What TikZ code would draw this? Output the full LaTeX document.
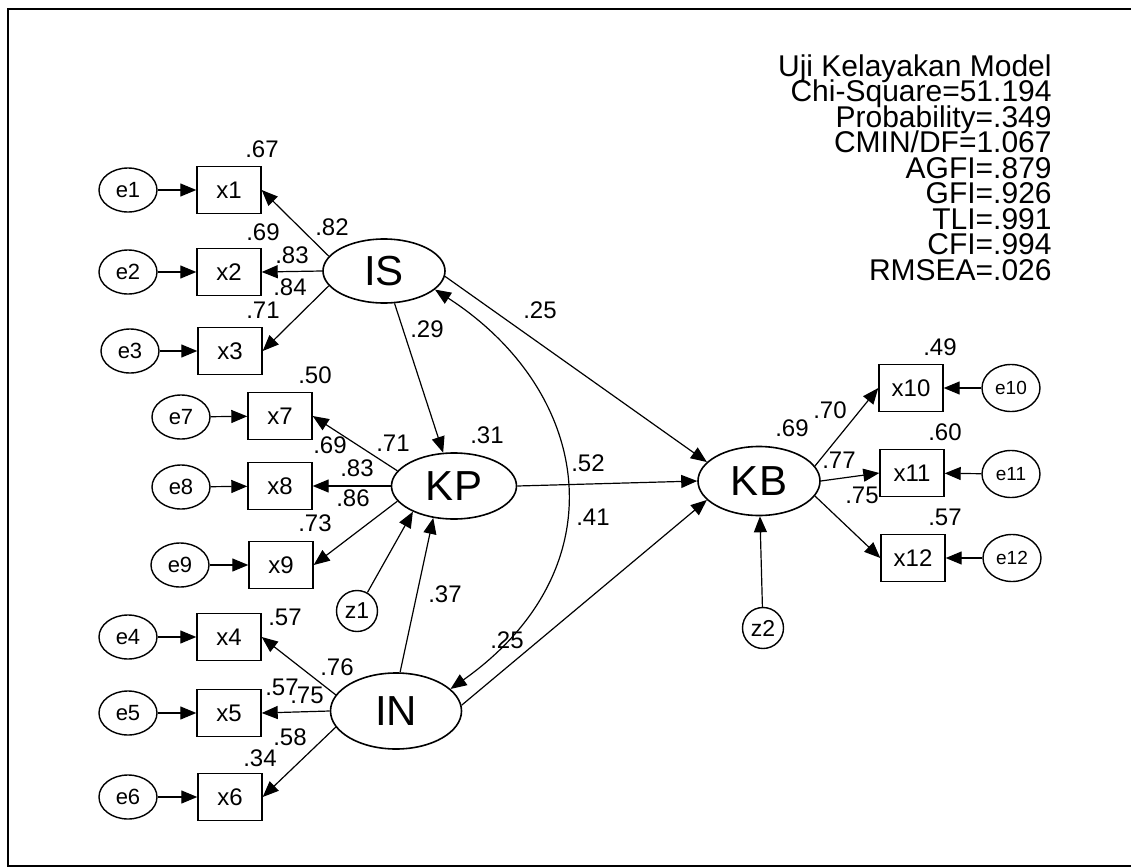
\documentclass[tikz,border=0pt]{standalone}
\usepackage{fontspec}
\setmainfont{Liberation Sans}
\usetikzlibrary{arrows.meta,shapes.geometric}
\newcommand\semfitfont{\fontsize{15}{12.75}\selectfont\lineskiplimit=-20pt\relax}
\tikzset{
  semlat/.style={ellipse, draw=black, line width=0.8pt, inner sep=0pt,
    font=\fontsize{21}{21}\selectfont, minimum width=61pt, minimum height=32pt},
  semobs/.style={rectangle, draw=black, line width=0.7pt, inner sep=0pt,
    font=\fontsize{12}{12}\selectfont, minimum width=32pt, minimum height=23.5pt},
  semerr/.style={ellipse, draw=black, line width=0.7pt, inner sep=0pt,
    font=\fontsize{11}{11}\selectfont, minimum width=29pt, minimum height=22pt},
  semerrs/.style={semerr, font=\fontsize{9.5}{9.5}\selectfont, minimum height=23.5pt},
  semres/.style={circle, draw=black, line width=0.7pt, inner sep=0pt,
    font=\fontsize{11.5}{11.5}\selectfont, minimum size=20.5pt},
  semarrow/.style={-{Triangle[length=8pt,width=6.5pt]}, line width=0.6pt, draw=black},
  semdbl/.style={{Triangle[length=8pt,width=6.5pt]}-{Triangle[length=8pt,width=6.5pt]},
    line width=0.6pt, draw=black},
  semnum/.style={font=\fontsize{12}{12}\selectfont, inner sep=0pt}
}

\begin{document}
\begin{tikzpicture}[x=0.5pt,y=-0.5pt]
  \useasboundingbox (0,0) rectangle (1131,868);
  \draw[line width=1pt] (1140,9) -- (8,9) -- (8,866) -- (1140,866);
  % indicators of IS
  \node[semerr] (e1) at (128,190) {e1};
  \node[semerr] (e2) at (128,272) {e2};
  \node[semerr] (e3) at (130,351) {e3};
  \node[semobs] (x1) at (229,190) {x1};
  \node[semobs] (x2) at (229,272) {x2};
  \node[semobs] (x3) at (230,351) {x3};
  % indicators of KP
  \node[semerr] (e7) at (181,417) {e7};
  \node[semerr] (e8) at (181,487) {e8};
  \node[semerr] (e9) at (180,565) {e9};
  \node[semobs] (x7) at (280,416) {x7};
  \node[semobs] (x8) at (280,486) {x8};
  \node[semobs] (x9) at (281,565) {x9};
  % indicators of IN
  \node[semerr] (e4) at (128,637) {e4};
  \node[semerr] (e5) at (128,713) {e5};
  \node[semerr] (e6) at (128,797) {e6};
  \node[semobs] (x4) at (229,637) {x4};
  \node[semobs] (x5) at (229,713) {x5};
  \node[semobs] (x6) at (230,797) {x6};
  % indicators of KB
  \node[semobs] (x10) at (911,388) {x10};
  \node[semobs] (x11) at (912,473) {x11};
  \node[semobs] (x12) at (913,558) {x12};
  \node[semerrs] (e10) at (1011,388) {e10};
  \node[semerrs] (e11) at (1011,474) {e11};
  \node[semerrs] (e12) at (1012,558) {e12};
  % latent variables
  \node[semlat] (IS) at (384,271) {IS};
  \node[semlat, minimum width=62.5pt, minimum height=33pt] (KP) at (454,486) {KP};
  \node[semlat, minimum width=65.5pt, minimum height=38pt] (IN) at (396,711) {IN};
  \node[semlat, minimum height=34.5pt] (KB) at (759,481) {KB};
  \node[semres] (z1) at (357,611) {z1};
  \node[semres] (z2) at (763,628) {z2};
  % error terms
  \draw[semarrow] (e1) -- (x1);
  \draw[semarrow] (e2) -- (x2);
  \draw[semarrow] (e3) -- (x3);
  \draw[semarrow] (e7) -- (x7);
  \draw[semarrow] (e8) -- (x8);
  \draw[semarrow] (e9) -- (x9);
  \draw[semarrow] (e4) -- (x4);
  \draw[semarrow] (e5) -- (x5);
  \draw[semarrow] (e6) -- (x6);
  \draw[semarrow] (e10) -- (x10);
  \draw[semarrow] (e11) -- (x11);
  \draw[semarrow] (e12) -- (x12);
  % loadings
  \draw[semarrow] (IS.165) -- (x1.east);
  \draw[semarrow] (IS.west) -- (x2.east);
  \draw[semarrow] (IS.195) -- (x3.east);
  \draw[semarrow] (KP.165) -- (x7.east);
  \draw[semarrow] (KP.west) -- (x8.east);
  \draw[semarrow] (KP.195) -- (x9.east);
  \draw[semarrow] (IN.165) -- (x4.east);
  \draw[semarrow] (IN.west) -- (x5.east);
  \draw[semarrow] (IN.195) -- (x6.east);
  \draw[semarrow] (KB.15) -- (x10.west);
  \draw[semarrow] (KB.east) -- (x11.west);
  \draw[semarrow] (KB.-15) -- (x12.west);
  % structural paths
  \draw[semarrow] (IS) -- (KP);
  \draw[semarrow] (IS.-5) -- (KB.160);
  \draw[semarrow] (KP.east) -- (KB.west);
  \draw[semarrow] (IN.5) -- (KB.200);
  \draw[semarrow] (IN.84) -- (KP.237);
  \draw[semarrow] (z1) -- (KP.212);
  \draw[semarrow] (z2) -- (KB);
  \draw[semdbl] (IS.-20) .. controls (593,392) and (620,569) .. (IN.22);
  % estimates
  \node[semnum] (r1) at (262,149) {.67};
  \node[semnum] (l1) at (332,227) {.82};
  \node[semnum] (r2) at (263,232) {.69};
  \node[semnum] (l2) at (292,255) {.83};
  \node[semnum] (l3) at (290,287) {.84};
  \node[semnum] (r3) at (263,310) {.71};
  \node[semnum] (p1) at (427,329) {.29};
  \node[semnum] (r7) at (315,375) {.50};
  \node[semnum] (l7) at (330,445) {.69};
  \node[semnum] (lk) at (393,443) {.71};
  \node[semnum] (rkp) at (487,435) {.31};
  \node[semnum] (l8) at (357,468) {.83};
  \node[semnum] (l9) at (353,498) {.86};
  \node[semnum] (r9) at (315,523) {.73};
  \node[semnum] (p2) at (540,310) {.25};
  \node[semnum] (p3) at (588,463) {.52};
  \node[semnum] (p4) at (593,517) {.41};
  \node[semnum] (p5) at (445,594) {.37};
  \node[semnum] (cv) at (507,640) {.25};
  \node[semnum] (r4) at (285,617) {.57};
  \node[semnum] (l4) at (337,667) {.76};
  \node[semnum] (r5) at (282,687) {.57};
  \node[semnum] (l5) at (307,695) {.75};
  \node[semnum] (l6) at (290,737) {.58};
  \node[semnum] (r6) at (260,758) {.34};
  \node[semnum] (rkb) at (792,428) {.69};
  \node[semnum] (l10) at (830,410) {.70};
  \node[semnum] (r10) at (940,347) {.49};
  \node[semnum] (l11) at (839,460) {.77};
  \node[semnum] (r11) at (945,432) {.60};
  \node[semnum] (l12) at (862,495) {.75};
  \node[semnum] (r12) at (945,517) {.57};
  % model fit
  \node[anchor=north east, inner sep=0pt, align=right, font=\semfitfont] (fit) at (1052,54)
    {Uji Kelayakan Model\\Chi-Square=51.194\\Probability=.349\\CMIN/DF=1.067\\
     AGFI=.879\\GFI=.926\\TLI=.991\\CFI=.994\\RMSEA=.026};
\end{tikzpicture}
\end{document}
